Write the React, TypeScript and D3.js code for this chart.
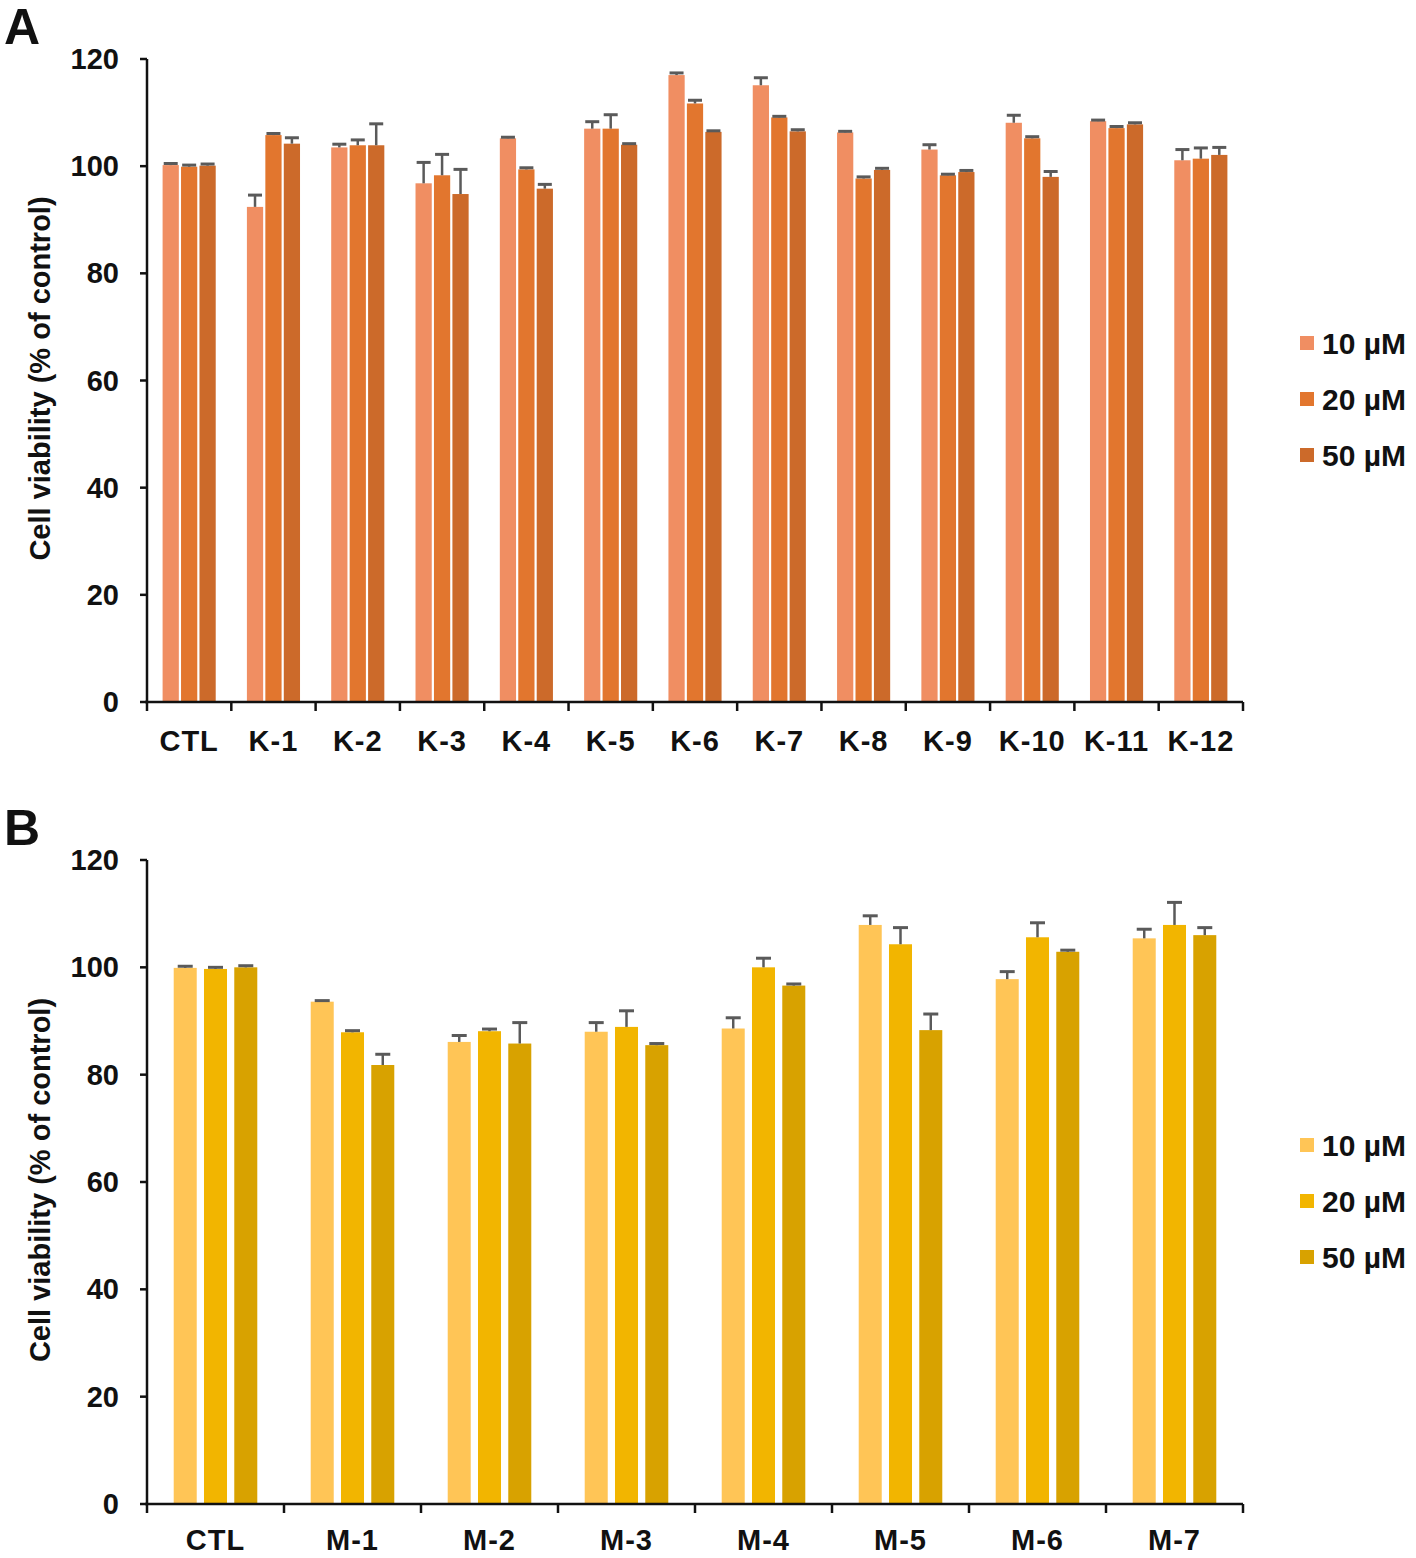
import React from "react";
import * as d3 from "d3";

const seriesNames = ["10 µM", "20 µM", "50 µM"];
const yTicks = [0, 20, 40, 60, 80, 100, 120];

const categoriesA = ["CTL", "K-1", "K-2", "K-3", "K-4", "K-5", "K-6", "K-7", "K-8", "K-9", "K-10", "K-11", "K-12"];
const a10 = [100.2, 92.4, 103.5, 96.8, 105.2, 107.0, 117.0, 115.1, 106.3, 103.1, 108.1, 108.4, 101.1];
const a20 = [99.9, 105.8, 103.9, 98.3, 99.4, 107.0, 111.7, 109.1, 97.7, 98.3, 105.2, 107.1, 101.4];
const a50 = [100.1, 104.2, 103.9, 94.8, 95.8, 104.0, 106.4, 106.5, 99.3, 98.9, 98.0, 107.8, 102.1];
const aErr10 = [0.3, 2.2, 0.6, 3.9, 0.2, 1.3, 0.4, 1.4, 0.2, 0.9, 1.4, 0.2, 2.0];
const aErr20 = [0.3, 0.3, 1.0, 3.9, 0.3, 2.6, 0.6, 0.2, 0.3, 0.2, 0.3, 0.3, 2.0];
const aErr50 = [0.3, 1.1, 4.0, 4.6, 0.8, 0.2, 0.2, 0.3, 0.3, 0.3, 1.0, 0.3, 1.4];
const colorsA = ["#F08E62", "#E2762E", "#CC6A2A"];

const categoriesB = ["CTL", "M-1", "M-2", "M-3", "M-4", "M-5", "M-6", "M-7"];
const b10 = [99.9, 93.6, 86.1, 88.0, 88.6, 107.9, 97.8, 105.4];
const b20 = [99.7, 87.9, 88.1, 88.9, 100.0, 104.3, 105.6, 107.9];
const b50 = [100.0, 81.8, 85.8, 85.5, 96.6, 88.3, 102.9, 106.0];
const bErr10 = [0.3, 0.2, 1.2, 1.7, 2.0, 1.7, 1.4, 1.7];
const bErr20 = [0.3, 0.3, 0.4, 3.0, 1.7, 3.1, 2.7, 4.2];
const bErr50 = [0.3, 2.0, 3.9, 0.3, 0.3, 3.0, 0.3, 1.4];
const colorsB = ["#FFC556", "#F2B500", "#D8A200"];

const FONT = "'Liberation Sans', Arial, Helvetica, sans-serif";

type PanelProps = {
  letter: string;
  letterY: number;
  categories: string[];
  values: number[][];
  errors: number[][];
  colors: string[];
  yTop: number;
  yBottom: number;
  groupFrac: number;
  barPad: number;
  capW: number;
  legendY: number;
  labelOffset: number;
};

function Panel(p: PanelProps) {
  const left = 147;
  const right = 1243;
  const x = d3.scaleBand<string>().domain(p.categories).range([left, right]).padding(0);
  const y = d3.scaleLinear().domain([0, 120]).range([p.yBottom, p.yTop]);
  const bw = x.bandwidth();
  const gw = bw * p.groupFrac;
  const inner = d3
    .scaleBand<string>()
    .domain(seriesNames)
    .range([(bw - gw) / 2, (bw + gw) / 2])
    .paddingInner(p.barPad);
  const boundaries = p.categories.map((c) => x(c) as number).concat([right]);
  const errColor = "#5a5a5a";
  return (
    <g>
      <text x={4} y={p.letterY} fontFamily={FONT} fontWeight="bold" fontSize={50} fill="#111">
        {p.letter}
      </text>
      {p.categories.map((c, i) =>
        seriesNames.map((s, j) => {
          const v = p.values[j][i];
          const bx = (x(c) as number) + (inner(s) as number);
          const w = inner.bandwidth();
          return (
            <rect key={c + s} x={bx} y={y(v)} width={w} height={y(0) - y(v)} fill={p.colors[j]} />
          );
        })
      )}
      {p.categories.map((c, i) =>
        seriesNames.map((s, j) => {
          const v = p.values[j][i];
          const e = p.errors[j][i];
          const cx = (x(c) as number) + (inner(s) as number) + inner.bandwidth() / 2;
          return (
            <g key={"e" + c + s}>
              <line x1={cx} x2={cx} y1={y(v)} y2={y(v + e)} stroke={errColor} strokeWidth={2.5} />
              <line
                x1={cx - p.capW / 2}
                x2={cx + p.capW / 2}
                y1={y(v + e)}
                y2={y(v + e)}
                stroke={errColor}
                strokeWidth={3}
              />
            </g>
          );
        })
      )}
      <line x1={left} x2={left} y1={y(120)} y2={y(0)} stroke="#111" strokeWidth={2.5} />
      {yTicks.map((t) => (
        <g key={"yt" + t}>
          <line x1={left - 7} x2={left} y1={y(t)} y2={y(t)} stroke="#111" strokeWidth={2.5} />
          <text
            x={119}
            y={y(t)}
            textAnchor="end"
            dominantBaseline="central"
            fontFamily={FONT}
            fontWeight="bold"
            fontSize={29}
            fill="#111"
          >
            {t}
          </text>
        </g>
      ))}
      <line x1={left - 2} x2={right} y1={y(0)} y2={y(0)} stroke="#111" strokeWidth={2.5} />
      {boundaries.map((b, i) => (
        <line key={"xt" + i} x1={b} x2={b} y1={y(0)} y2={y(0) + 9} stroke="#111" strokeWidth={2.5} />
      ))}
      {p.categories.map((c) => (
        <text
          key={"xl" + c}
          x={(x(c) as number) + bw / 2}
          y={y(0) + p.labelOffset}
          textAnchor="middle"
          fontFamily={FONT}
          fontWeight="bold"
          fontSize={29}
          letterSpacing={1}
          fill="#111"
        >
          {c}
        </text>
      ))}
      <text
        transform={`translate(50,${(y(0) + y(120)) / 2 - 2}) rotate(-90)`}
        textAnchor="middle"
        fontFamily={FONT}
        fontWeight="bold"
        fontSize={29}
        fill="#111"
      >
        Cell viability (% of control)
      </text>
      {seriesNames.map((s, j) => {
        const ly = p.legendY + j * 56;
        return (
          <g key={"lg" + s}>
            <rect x={1300} y={ly - 7} width={14} height={14} fill={p.colors[j]} />
            <text
              x={1322}
              y={ly}
              dominantBaseline="central"
              fontFamily={FONT}
              fontWeight="bold"
              fontSize={30}
              fill="#111"
            >
              {s}
            </text>
          </g>
        );
      })}
    </g>
  );
}

export default function App() {
  return (
    <div style={{ position: "absolute", left: 0, top: 0 }}>
      <svg width={1416} height={1558} viewBox="0 0 1416 1558" style={{ display: "block", background: "#fff" }}>
        <rect x={0} y={0} width={1416} height={1558} fill="#fff" />
        <Panel
          letter="A"
          letterY={44}
          categories={categoriesA}
          values={[a10, a20, a50]}
          errors={[aErr10, aErr20, aErr50]}
          colors={colorsA}
          yTop={59}
          yBottom={702}
          groupFrac={0.63}
          barPad={0.12}
          capW={14}
          legendY={343}
          labelOffset={49}
        />
        <Panel
          letter="B"
          letterY={845}
          categories={categoriesB}
          values={[b10, b20, b50]}
          errors={[bErr10, bErr20, bErr50]}
          colors={colorsB}
          yTop={860}
          yBottom={1504}
          groupFrac={0.61}
          barPad={0.24}
          capW={15}
          legendY={1145}
          labelOffset={46}
        />
      </svg>
    </div>
  );
}
